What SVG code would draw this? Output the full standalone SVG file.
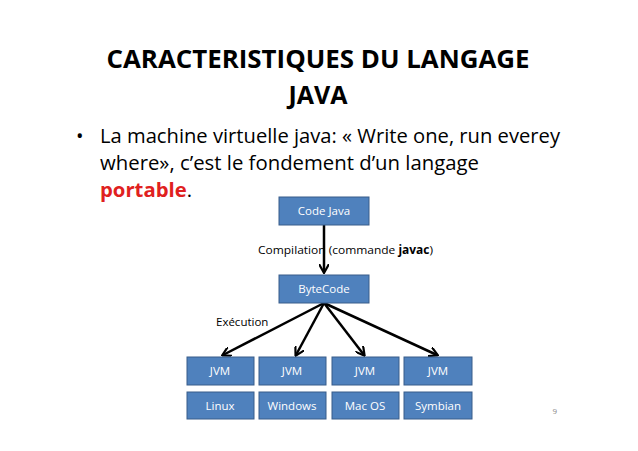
<svg xmlns="http://www.w3.org/2000/svg" width="638" height="451" viewBox="0 0 638 451">
<defs>
<style>
.t{font-family:"Open Sans","Liberation Sans",sans-serif}
.box{fill:#4f81bd;stroke:#385d8a;stroke-width:1}
.bl{font-family:"Open Sans","Liberation Sans",sans-serif;font-size:11.5px;fill:#fff;text-anchor:middle}
.c{stroke:#000;stroke-width:2.5;fill:none;marker-end:url(#a)}
</style>
<marker id="a" viewBox="0 0 10 10" refX="8" refY="5" markerWidth="4" markerHeight="4" orient="auto"><path d="M0,0 L9,5 L0,10" fill="none" stroke="#000" stroke-width="2.2"/></marker>
</defs>
<rect width="638" height="451" fill="#fff"/>
<text class="t" x="318" y="68" font-size="25" font-weight="bold" text-anchor="middle" textLength="423" lengthAdjust="spacingAndGlyphs">CARACTERISTIQUES DU LANGAGE</text>
<text class="t" x="318" y="104" font-size="25" font-weight="bold" text-anchor="middle">JAVA</text>
<text class="t" x="76" y="143" font-size="20">•</text>
<text class="t" x="100" y="143" font-size="19.5" textLength="460" lengthAdjust="spacingAndGlyphs">La machine virtuelle java: « Write one, run everey</text>
<text class="t" x="100" y="170" font-size="19.5" textLength="379" lengthAdjust="spacingAndGlyphs">where», c’est le fondement d’un langage</text>
<text class="t" x="100" y="197" font-size="19.5" textLength="92" lengthAdjust="spacingAndGlyphs"><tspan font-weight="bold" fill="#e02020">portable</tspan>.</text>
<g id="connectors">
<line class="c" x1="324" y1="225" x2="324" y2="272"/>
<line class="c" x1="324" y1="303" x2="223" y2="355"/>
<line class="c" x1="324" y1="303" x2="296" y2="355"/>
<line class="c" x1="324" y1="303" x2="364" y2="355"/>
<line class="c" x1="324" y1="303" x2="437" y2="355"/>
</g>
<text class="t" x="258" y="254" font-size="11.5" textLength="175" lengthAdjust="spacingAndGlyphs">Compilation (commande <tspan font-weight="bold">javac</tspan>)</text>
<text class="t" x="216" y="326" font-size="11.5">Exécution</text>
<g id="codejava"><rect class="box" x="279" y="197" width="90" height="28"/><text class="bl" x="324" y="215">Code Java</text></g>
<g id="bytecode"><rect class="box" x="279" y="275" width="90" height="28"/><text class="bl" x="324" y="293">ByteCode</text></g>
<g id="jvm1"><rect class="box" x="187" y="357" width="67" height="28"/><text class="bl" x="220" y="375">JVM</text></g>
<g id="jvm2"><rect class="box" x="259" y="357" width="67" height="28"/><text class="bl" x="292" y="375">JVM</text></g>
<g id="jvm3"><rect class="box" x="332" y="357" width="67" height="28"/><text class="bl" x="365" y="375">JVM</text></g>
<g id="jvm4"><rect class="box" x="404" y="357" width="68" height="28"/><text class="bl" x="438" y="375">JVM</text></g>
<g id="linux"><rect class="box" x="187" y="392" width="67" height="27"/><text class="bl" x="220" y="410">Linux</text></g>
<g id="windows"><rect class="box" x="259" y="392" width="67" height="27"/><text class="bl" x="292" y="410">Windows</text></g>
<g id="macos"><rect class="box" x="332" y="392" width="67" height="27"/><text class="bl" x="365" y="410">Mac OS</text></g>
<g id="symbian"><rect class="box" x="404" y="392" width="68" height="27"/><text class="bl" x="438" y="410">Symbian</text></g>
<text class="t" x="557" y="414" font-size="8" fill="#888" text-anchor="end">9</text>
</svg>
